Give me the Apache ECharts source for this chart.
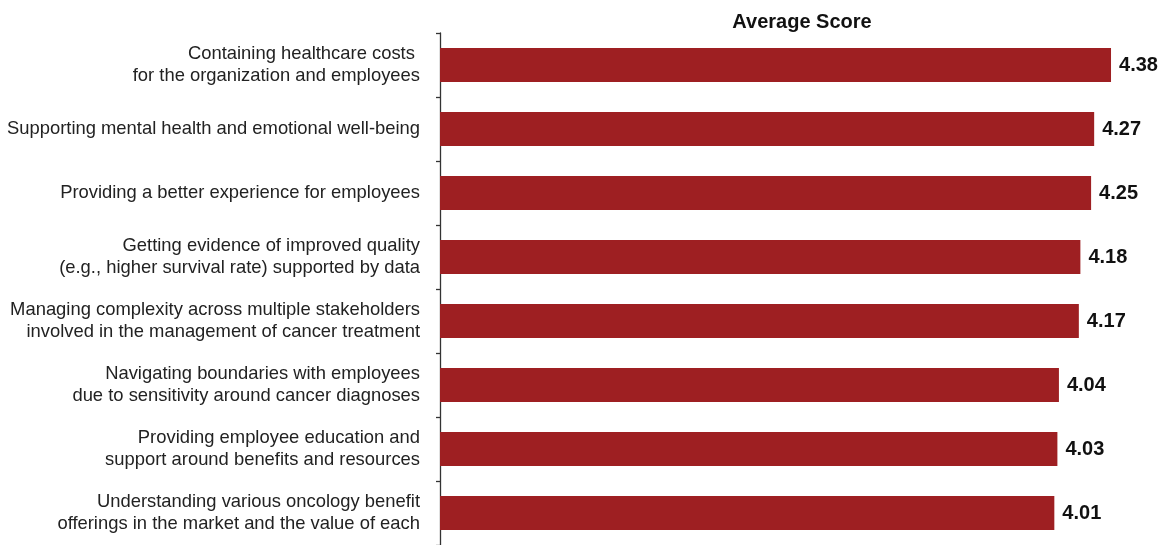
<!DOCTYPE html>
<html>
<head>
<meta charset="utf-8">
<script src="https://cdn.jsdelivr.net/npm/echarts@6/dist/echarts.min.js"></script>
<style>
  html, body { margin: 0; padding: 0; background: #fff; }
  #chart { width: 1163px; height: 545px; }
</style>
</head>
<body>
<div id="chart"></div>
<script>
// Challenge categories, listed top to bottom
const categories = [
  'Containing healthcare costs \nfor the organization and employees',
  'Supporting mental health and emotional well-being',
  'Providing a better experience for employees',
  'Getting evidence of improved quality\n(e.g., higher survival rate) supported by data',
  'Managing complexity across multiple stakeholders\ninvolved in the management of cancer treatment',
  'Navigating boundaries with employees\ndue to sensitivity around cancer diagnoses',
  'Providing employee education and\nsupport around benefits and resources',
  'Understanding various oncology benefit\nofferings in the market and the value of each'
];

// Average score per category
const scores = [4.38, 4.27, 4.25, 4.18, 4.17, 4.04, 4.03, 4.01];

const chart = echarts.init(document.getElementById('chart'), null, { renderer: 'canvas' });

chart.setOption({
  animation: false,
  backgroundColor: '#ffffff',
  title: {
    text: 'Average Score',
    left: 797,
    top: 7,
    textAlign: 'center',
    textStyle: {
      fontFamily: 'Liberation Sans, Arial, sans-serif',
      fontSize: 20,
      fontWeight: 'bold',
      color: '#111'
    }
  },
  grid: {
    left: 440,
    top: 33,
    width: 689.4,
    height: 514.4,
    containLabel: false
  },
  xAxis: {
    type: 'value',
    min: 0,
    max: 4.5,
    show: false
  },
  yAxis: {
    type: 'category',
    inverse: true,
    data: categories,
    axisLine: { show: true, lineStyle: { color: '#333', width: 1.3 } },
    axisTick: { show: true, length: 4, lineStyle: { color: '#333', width: 1.3 } },
    axisLabel: {
      margin: 20,
      color: '#222',
      fontFamily: 'Liberation Sans, Arial, sans-serif',
      fontSize: 18.4,
      lineHeight: 21.5,
      align: 'right',
      padding: [3, 0, 0, 0]
    },
    splitLine: { show: false }
  },
  series: [{
    type: 'bar',
    data: scores,
    barWidth: 34,
    itemStyle: { color: '#9e1f22' },
    label: {
      show: true,
      position: 'right',
      distance: 8,
      formatter: p => p.value.toFixed(2),
      color: '#111',
      fontFamily: 'Liberation Sans, Arial, sans-serif',
      fontSize: 20,
      fontWeight: 'bold'
    }
  }]
});
</script>
</body>
</html>
